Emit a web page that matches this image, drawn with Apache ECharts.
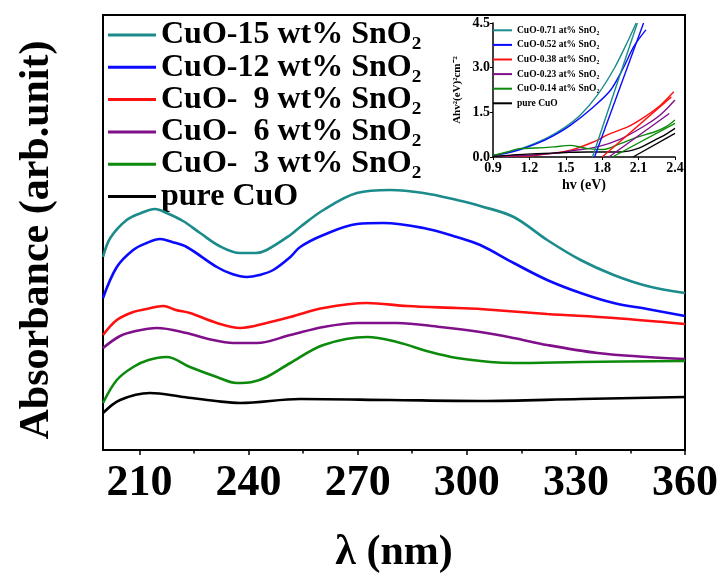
<!DOCTYPE html>
<html>
<head>
<meta charset="utf-8">
<script src="https://cdn.jsdelivr.net/npm/echarts@6/dist/echarts.min.js"></script>
<style>html,body{margin:0;padding:0;background:#fff;}#c{width:721px;height:579px;}</style>
</head>
<body>
<div id="c"></div>
<script>
// ---------- main chart data (wavelength nm, absorbance arb.) ----------
const xTicks = [210, 240, 270, 300, 330, 360];
const xMinorTicks = [225, 255, 285, 315, 345];
const mainNames = ['CuO-15 wt% SnO\u2082', 'CuO-12 wt% SnO\u2082', 'CuO-  9 wt% SnO\u2082', 'CuO-  6 wt% SnO\u2082', 'CuO-  3 wt% SnO\u2082', 'pure CuO'];
const colors = ['#1b8b8b', '#0a0aff', '#ff1010', '#80108a', '#0c8a0c', '#000000'];

const cuo15_x = [200, 202, 206.5, 210.5, 214.3, 217.5, 222, 226.7, 232, 237.7, 242, 245, 251.5, 254.2, 260.6, 269.8, 279, 288.1, 297.3, 303.7, 312.9, 322.1, 331.3, 340.4, 349.6, 360];
const cuo15_y = [1.93, 2.12, 2.30, 2.37, 2.41, 2.37, 2.29, 2.17, 2.04, 1.97, 1.97, 2.00, 2.15, 2.23, 2.40, 2.57, 2.60, 2.57, 2.50, 2.44, 2.33, 2.10, 1.90, 1.75, 1.64, 1.57];
const cuo12_x = [200, 203.8, 208.3, 212, 215.7, 219, 223, 231.3, 235.5, 239.5, 243, 246.8, 251.5, 254.2, 260.6, 269.8, 277.1, 288.1, 297.3, 303.7, 312.9, 322.1, 331.3, 340.4, 349.6, 360];
const cuo12_y = [1.52, 1.83, 2.00, 2.07, 2.11, 2.08, 2.03, 1.83, 1.76, 1.73, 1.75, 1.80, 1.93, 2.03, 2.15, 2.26, 2.27, 2.22, 2.13, 2.05, 1.87, 1.70, 1.57, 1.47, 1.41, 1.34];
const cuo9_x = [200, 203.8, 208.3, 212, 216.6, 220, 223.9, 231.3, 237.7, 245, 251.5, 260.6, 272.6, 283.6, 297.3, 303.7, 322.1, 340.4, 360];
const cuo9_y = [1.15, 1.30, 1.38, 1.41, 1.44, 1.40, 1.37, 1.27, 1.22, 1.27, 1.33, 1.42, 1.47, 1.44, 1.42, 1.41, 1.36, 1.32, 1.26];
const cuo6_x = [200, 204.7, 209, 214.8, 223, 229, 235.9, 242.3, 251.5, 260.6, 269.8, 280.8, 292.7, 303.7, 312.9, 322.1, 335.9, 349.6, 360];
const cuo6_y = [1.02, 1.14, 1.19, 1.22, 1.17, 1.11, 1.07, 1.07, 1.15, 1.23, 1.27, 1.27, 1.23, 1.18, 1.12, 1.05, 0.97, 0.93, 0.91];
const cuo3_x = [200, 203.8, 208.3, 212.5, 217.5, 223.9, 231.3, 236.8, 241, 245, 251.5, 260.6, 272.6, 280.8, 290, 297.3, 306.5, 312.9, 331.3, 360];
const cuo3_y = [0.47, 0.70, 0.83, 0.90, 0.93, 0.83, 0.73, 0.67, 0.68, 0.73, 0.87, 1.05, 1.13, 1.08, 0.98, 0.92, 0.88, 0.87, 0.88, 0.89];
const pure_x = [200, 204.7, 212.9, 222.1, 231, 237.7, 254.2, 279, 303.7, 331.3, 360];
const pure_y = [0.37, 0.50, 0.57, 0.53, 0.49, 0.47, 0.51, 0.50, 0.49, 0.51, 0.53];

// ---------- inset data (hv eV, (A hv)^2) ----------
const insetNames = ['CuO-0.71 at% SnO\u2082', 'CuO-0.52 at% SnO\u2082', 'CuO-0.38 at% SnO\u2082', 'CuO-0.23 at% SnO\u2082', 'CuO-0.14 at% SnO\u2082', 'pure CuO '];
const in71_x = [0.9, 1.05, 1.21, 1.35, 1.48, 1.62, 1.76, 1.90, 2.01, 2.08];
const in71_y = [0.05, 0.18, 0.40, 0.65, 0.96, 1.41, 2.08, 2.98, 3.88, 4.5];
const in52_x = [0.9, 1.06, 1.26, 1.40, 1.54, 1.73, 1.87, 1.98, 2.06, 2.16];
const in52_y = [0.05, 0.17, 0.45, 0.72, 1.07, 1.69, 2.25, 3.04, 3.71, 4.27];
const in38_x = [0.9, 1.1, 1.26, 1.54, 1.73, 1.87, 2.01, 2.15, 2.28, 2.39];
const in38_y = [0.02, 0.03, 0.06, 0.23, 0.51, 0.79, 1.01, 1.35, 1.74, 2.19];
const in23_x = [0.9, 1.2, 1.4, 1.57, 1.76, 1.95, 2.15, 2.28, 2.40];
const in23_y = [0.02, 0.06, 0.12, 0.22, 0.34, 0.60, 1.05, 1.42, 1.91];
const in14_x = [0.9, 1.0, 1.12, 1.25, 1.40, 1.54, 1.62, 1.68, 1.81, 1.95, 2.09, 2.23, 2.32, 2.40];
const in14_y = [0.05, 0.15, 0.28, 0.30, 0.34, 0.39, 0.33, 0.28, 0.25, 0.45, 0.67, 0.84, 1.00, 1.24];
const inPure_x = [0.9, 1.1, 1.26, 1.5, 1.68, 1.95, 2.09, 2.23, 2.32, 2.40];
const inPure_y = [0.02, 0.08, 0.11, 0.15, 0.17, 0.17, 0.28, 0.56, 0.75, 0.96];
// Tauc linear fits: [x0, x1], [y0, y1]
const fit71_x = [1.72, 2.09];  const fit71_y = [0, 4.5];
const fit52_x = [1.737, 2.141]; const fit52_y = [0, 4.5];
const fit38_x = [1.80, 2.37];  const fit38_y = [0, 2.02];
const fit23_x = [1.855, 2.353]; const fit23_y = [0, 1.46];
const fit14_x = [1.884, 2.40]; const fit14_y = [0, 1.13];
const fitPure_x = [2.054, 2.40]; const fitPure_y = [0, 0.79];

const FONT = "'Liberation Serif', 'Times New Roman', serif";
const pairs = (xs, ys) => xs.map((x, i) => [x, ys[i]]);

const mainData = [[cuo15_x, cuo15_y], [cuo12_x, cuo12_y], [cuo9_x, cuo9_y], [cuo6_x, cuo6_y], [cuo3_x, cuo3_y], [pure_x, pure_y]];
const insetData = [[in71_x, in71_y], [in52_x, in52_y], [in38_x, in38_y], [in23_x, in23_y], [in14_x, in14_y], [inPure_x, inPure_y]];
const fitData = [[fit71_x, fit71_y], [fit52_x, fit52_y], [fit38_x, fit38_y], [fit23_x, fit23_y], [fit14_x, fit14_y], [fitPure_x, fitPure_y]];

const series = [];
mainData.forEach((d, i) => series.push({
  name: mainNames[i], type: 'line', xAxisIndex: 0, yAxisIndex: 0,
  data: pairs(d[0], d[1]), smooth: 0.35, symbol: 'none',
  lineStyle: { color: colors[i], width: 2.6 }, itemStyle: { color: colors[i] }, z: 5
}));
insetData.forEach((d, i) => series.push({
  name: insetNames[i], type: 'line', xAxisIndex: 2, yAxisIndex: 1,
  data: pairs(d[0], d[1]), smooth: 0.3, symbol: 'none',
  lineStyle: { color: colors[i], width: 1.4 }, itemStyle: { color: colors[i] }, z: 6
}));
fitData.forEach((d, i) => series.push({
  name: 'fit' + i, type: 'line', xAxisIndex: 2, yAxisIndex: 1,
  data: pairs(d[0], d[1]), symbol: 'none',
  lineStyle: { color: colors[i], width: 1.4 }, itemStyle: { color: colors[i] }, z: 6
}));

const chart = echarts.init(document.getElementById('c'), null, { renderer: 'canvas' });
chart.setOption({
  animation: false,
  backgroundColor: '#fff',
  graphic: [{
    type: 'text', x: 37, y: 240, rotation: Math.PI / 2,
    style: { text: 'Absorbance (arb.unit)', font: "bold 42px 'Liberation Serif', 'Times New Roman', serif", fill: '#000', textAlign: 'center', textVerticalAlign: 'middle' }
  }],
  grid: [
    { left: 103, right: 36, top: 15, bottom: 129, show: true, borderColor: '#000', borderWidth: 2, backgroundColor: 'transparent' },
    { left: 493, right: 46, top: 23, bottom: 422, show: false }
  ],
  legend: [
    {
      data: mainNames, orient: 'vertical', left: 108, top: 19, padding: 0, itemGap: 0.3,
      icon: 'rect', itemWidth: 48, itemHeight: 3, selectedMode: false,
      textStyle: { fontFamily: FONT, fontWeight: 'bold', fontSize: 32, color: '#000', lineHeight: 30 }
    },
    {
      data: insetNames, orient: 'vertical', left: 493, top: 23, padding: 0, itemGap: 0,
      icon: 'rect', itemWidth: 19, itemHeight: 2, selectedMode: false,
      textStyle: { fontFamily: FONT, fontWeight: 'bold', fontSize: 9.5, color: '#000', lineHeight: 14.6 }
    }
  ],
  xAxis: [
    {
      gridIndex: 0, type: 'value', min: 200, max: 360,
      axisLine: { show: true, lineStyle: { color: '#000', width: 2 } },
      axisTick: { show: true, customValues: xTicks, length: 5, lineStyle: { color: '#000', width: 1.5 } },
      axisLabel: { customValues: xTicks, fontFamily: FONT, fontWeight: 'bold', fontSize: 44, color: '#000', margin: 12 },
      splitLine: { show: false },
      name: '\u03bb (nm)', nameLocation: 'middle', nameGap: 82,
      nameTextStyle: { fontFamily: FONT, fontWeight: 'bold', fontSize: 42, color: '#000' }
    },
    {
      gridIndex: 0, type: 'value', min: 200, max: 360, position: 'bottom',
      axisLine: { show: false },
      axisTick: { show: true, customValues: xMinorTicks, length: 3.5, lineStyle: { color: '#000', width: 1.5 } },
      axisLabel: { show: false }, splitLine: { show: false }
    },
    {
      gridIndex: 1, type: 'value', min: 0.9, max: 2.4, interval: 0.3,
      axisLine: { show: true, lineStyle: { color: '#000', width: 1.5 } },
      axisTick: { show: true, length: 3, lineStyle: { color: '#000', width: 1 } },
      axisLabel: { fontFamily: FONT, fontWeight: 'bold', fontSize: 14, color: '#000', margin: 4, formatter: v => v.toFixed(1) },
      splitLine: { show: false },
      name: 'hv (eV)', nameLocation: 'middle', nameGap: 21,
      nameTextStyle: { fontFamily: FONT, fontWeight: 'bold', fontSize: 14, color: '#000' }
    }
  ],
  yAxis: [
    {
      gridIndex: 0, type: 'value', min: 0, max: 4.35,
      axisLine: { show: true, lineStyle: { color: '#000', width: 2 } },
      axisTick: { show: false }, axisLabel: { show: false }, splitLine: { show: false }
    },
    {
      gridIndex: 1, type: 'value', min: 0, max: 4.5, interval: 1.5,
      axisLine: { show: true, lineStyle: { color: '#000', width: 1.5 } },
      axisTick: { show: true, length: 3, lineStyle: { color: '#000', width: 1 } },
      axisLabel: { fontFamily: FONT, fontWeight: 'bold', fontSize: 14, color: '#000', margin: 3, formatter: v => v.toFixed(1) },
      splitLine: { show: false },
      name: 'Ahv\u00b2(eV)\u00b2cm\u207b\u00b2', nameLocation: 'middle', nameGap: 30, nameRotate: 90,
      nameTextStyle: { fontFamily: FONT, fontWeight: 'bold', fontSize: 11, color: '#000' }
    }
  ],
  series: series
});
</script>
</body>
</html>
